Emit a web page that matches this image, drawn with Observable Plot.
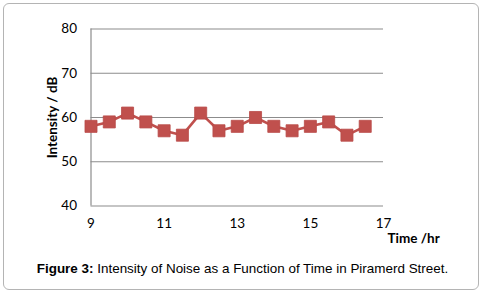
<!DOCTYPE html>
<html>
<head>
<meta charset="utf-8">
<script src="https://cdn.jsdelivr.net/npm/d3@7"></script>
<script src="https://cdn.jsdelivr.net/npm/@observablehq/plot@0.6"></script>
<style>
  html, body { margin: 0; padding: 0; background: #fff; }
  #wrap { position: relative; width: 485px; height: 295px; overflow: hidden; }
  #frame { position: absolute; left: 3px; top: 3px; width: 476px; height: 287px;
           border: 1.5px solid #b4b4b4; border-radius: 6px; box-sizing: border-box; }
  #chart { position: absolute; left: 0; top: 0; }
  #caption { position: absolute; left: 0; width: 485px; top: 261px; text-align: center;
             font-family: "Liberation Sans", Arial, sans-serif; font-size: 13.45px; color: #000; }
</style>
</head>
<body>
<div id="wrap">
  <div id="frame"></div>
  <div id="chart"></div>
  <div id="caption"><b>Figure 3:</b> Intensity of Noise as a Function of Time in Piramerd Street.</div>
</div>
<script>
const hours = [9, 9.5, 10, 10.5, 11, 11.5, 12, 12.5, 13, 13.5, 14, 14.5, 15, 15.5, 16, 16.5];
const intensity = [58, 59, 61, 59, 57, 56, 61, 57, 58, 60, 58, 57, 58, 59, 56, 58];
const xTicks = [9, 11, 13, 15, 17];
const yTicks = [40, 50, 60, 70, 80];

const data = hours.map((h, i) => ({h, v: intensity[i]}));
const red = "#c0504d";

const chart = Plot.plot({
  width: 485,
  height: 250,
  marginLeft: 90.5,
  marginRight: 102,
  marginTop: 28.5,
  marginBottom: 44.5,
  style: {fontFamily: "Lato, sans-serif", fontSize: "13.5px", color: "#000", background: "transparent"},
  x: {domain: [9, 17], ticks: xTicks},
  y: {domain: [40, 80], ticks: yTicks},
  marks: [
    Plot.ruleY(yTicks, {stroke: "#8c8c8c", strokeWidth: 1.2, strokeOpacity: 1}),
    Plot.ruleX([9], {y1: 40, y2: 80, stroke: "#8c8c8c", strokeWidth: 1.2, strokeOpacity: 1}),
    Plot.axisY({ticks: yTicks, tickSize: 0, tickPadding: 14, label: null, fill: "#000"}),
    Plot.axisX({ticks: xTicks, tickSize: 0, tickPadding: 12, label: null, fill: "#000"}),
    Plot.line(data, {x: "h", y: "v", stroke: red, strokeWidth: 2.6}),
    Plot.dot(data, {x: "h", y: "v", symbol: "square", r: 6.8, fill: red, stroke: "#b94a47", strokeWidth: 0.8}),
    Plot.text(["Intensity / dB"], {frameAnchor: "left", rotate: -90, dx: -38, text: d => d,
      fontWeight: "bold", fontSize: 13.5, fill: "#000", textAnchor: "middle"}),
    Plot.text(["Time /hr"], {frameAnchor: "bottom-right", dx: 4, dy: 36.5, text: d => d,
      fontWeight: "bold", fontSize: 13.5, fill: "#000", textAnchor: "start"})
  ]
});
document.getElementById("chart").appendChild(chart);
</script>
</body>
</html>
